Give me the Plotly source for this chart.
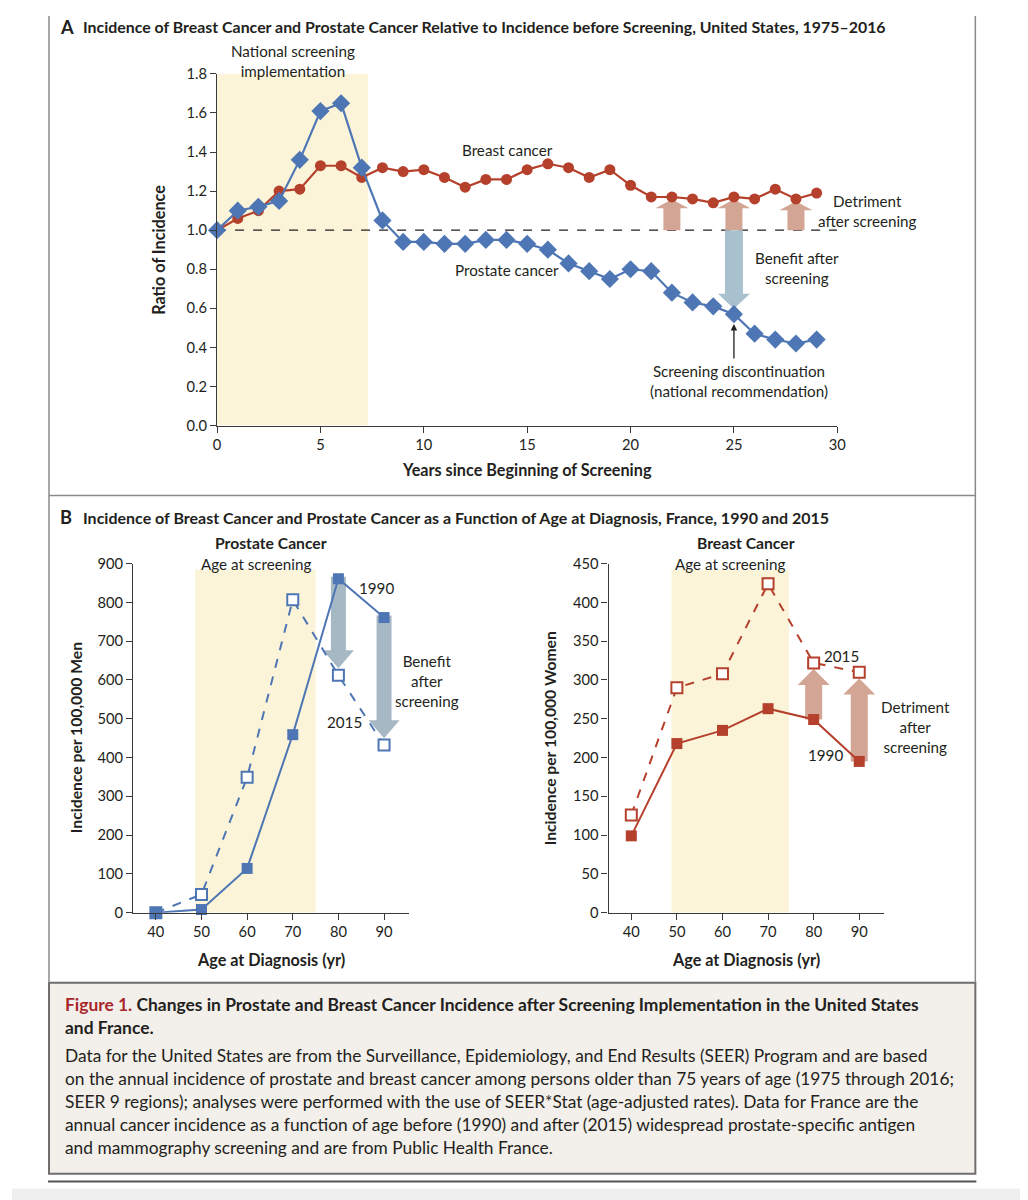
import plotly.graph_objects as go

W, H = 1028, 1200
# empirical screenshot transform compensation: shown = S*figure + (CX, CY)
S, CX, CY = 0.987, 13.0, 16.0
FONT = "Lato"

# ---------------- data ----------------
years = list(range(0, 30))
breast_ratio = [1.00, 1.06, 1.10, 1.20, 1.21, 1.33, 1.33, 1.27, 1.32, 1.30,
                1.31, 1.27, 1.22, 1.26, 1.26, 1.31, 1.34, 1.32, 1.27, 1.31,
                1.23, 1.17, 1.17, 1.16, 1.14, 1.17, 1.16, 1.21, 1.16, 1.19]
prostate_ratio = [1.00, 1.10, 1.12, 1.15, 1.36, 1.61, 1.65, 1.32, 1.05, 0.94,
                  0.94, 0.93, 0.93, 0.95, 0.95, 0.93, 0.90, 0.83, 0.79, 0.75,
                  0.80, 0.79, 0.68, 0.63, 0.61, 0.57, 0.47, 0.44, 0.42, 0.44]
ages = [40, 50, 60, 70, 80, 90]
prostate_1990 = [0, 8, 114, 459, 861, 761]
prostate_2015 = [0, 47, 349, 807, 612, 432]
breast_1990 = [99, 218, 235, 263, 249, 195]
breast_2015 = [126, 290, 308, 424, 322, 310]

a_xticks = [0, 5, 10, 15, 20, 25, 30]
a_yticks = [0.0, 0.2, 0.4, 0.6, 0.8, 1.0, 1.2, 1.4, 1.6, 1.8]
b_xticks = [40, 50, 60, 70, 80, 90]
bl_yticks = list(range(0, 901, 100))
br_yticks = list(range(0, 451, 50))

BLUE = "#4E76B4"
RED = "#B5402C"
TAN = "#D3A594"
LBLUE = "#A9C1CE"
GBLUE = "#A6B8C4"
YEL = "#FBF4D8"
INK = "#231F20"


def px(x):
    return ((x - CX) / S) / W


def py(y):
    return 1 - ((y - CY) / S) / H


def fs(v):
    return v / S


# axis geometry (reference pixels)
A_X = (218, 838); A_Y = (425, 73); A_RX = (0, 30); A_RY = (0, 1.8)
BL_X = (134, 410); B_Y = (912.7, 563.3); BL_RX = (35, 95.5); BL_RY = (0, 900)
BR_X = (609.3, 885); BR_RX = (35, 95.5); BR_RY = (0, 450)


def scale(pxr, rng):
    return (rng[1] - rng[0]) / abs(pxr[1] - pxr[0])  # data units per reference pixel


fig = go.Figure()

# ---------- traces ----------
fig.add_trace(go.Scatter(x=years, y=breast_ratio, mode="lines+markers",
                         line=dict(color=RED, width=2.2),
                         marker=dict(symbol="circle", size=11, color=RED),
                         xaxis="x", yaxis="y", cliponaxis=False, showlegend=False))
fig.add_trace(go.Scatter(x=years, y=prostate_ratio, mode="lines+markers",
                         line=dict(color=BLUE, width=2.2),
                         marker=dict(symbol="diamond", size=14, color=BLUE),
                         xaxis="x", yaxis="y", cliponaxis=False, showlegend=False))

fig.add_trace(go.Scatter(x=ages, y=prostate_2015, mode="lines+markers",
                         line=dict(color=BLUE, width=2, dash="dash"),
                         marker=dict(symbol="square", size=11, color="white", line=dict(width=2, color=BLUE)),
                         xaxis="x2", yaxis="y2", cliponaxis=False, showlegend=False))
fig.add_trace(go.Scatter(x=ages, y=prostate_1990, mode="lines+markers",
                         line=dict(color=BLUE, width=2),
                         marker=dict(symbol="square", size=11, color=BLUE),
                         xaxis="x2", yaxis="y2", cliponaxis=False, showlegend=False))

fig.add_trace(go.Scatter(x=ages, y=breast_2015, mode="lines+markers",
                         line=dict(color=RED, width=2, dash="dash"),
                         marker=dict(symbol="square", size=11, color="white", line=dict(width=2, color=RED)),
                         xaxis="x3", yaxis="y3", cliponaxis=False, showlegend=False))
fig.add_trace(go.Scatter(x=ages, y=breast_1990, mode="lines+markers",
                         line=dict(color=RED, width=2),
                         marker=dict(symbol="square", size=11, color=RED),
                         xaxis="x3", yaxis="y3", cliponaxis=False, showlegend=False))

shapes = []

# ---------- frames ----------
FR = dict(color="#8A8A8A", width=1.5)
for xv in (50, 976):
    shapes.append(dict(type="line", xref="paper", yref="paper", x0=px(xv), x1=px(xv), y0=py(15), y1=py(983),
                       line=FR))
shapes.append(dict(type="line", xref="paper", yref="paper", x0=px(50), x1=px(976), y0=py(495), y1=py(495),
                   line=FR))
shapes.append(dict(type="rect", xref="paper", yref="paper", x0=px(50), x1=px(976), y0=py(983), y1=py(1174),
                   fillcolor="#F3EFEA", line=dict(color="#6E6E6E", width=2), layer="below"))
shapes.append(dict(type="line", xref="paper", yref="paper", x0=px(49), x1=px(977), y0=py(1182), y1=py(1182),
                   line=dict(color="#555555", width=2)))
shapes.append(dict(type="rect", xref="paper", yref="paper", x0=0, x1=1, y0=0, y1=py(1189),
                   fillcolor="#EFEFEF", line=dict(width=0), layer="below"))

# ---------- shaded screening periods ----------
shapes.append(dict(type="rect", xref="x", yref="y", x0=0, x1=7.3, y0=0, y1=1.8,
                   fillcolor=YEL, line=dict(width=0), layer="below"))
shapes.append(dict(type="rect", xref="x2", yref="y2", x0=48.6, x1=75.0, y0=0, y1=885,
                   fillcolor=YEL, line=dict(width=0), layer="below"))
shapes.append(dict(type="rect", xref="x3", yref="y3", x0=48.8, x1=74.6, y0=0, y1=442,
                   fillcolor=YEL, line=dict(width=0), layer="below"))

# reference line at 1.0
shapes.append(dict(type="line", xref="x", yref="y", x0=0, x1=30, y0=1.0, y1=1.0,
                   line=dict(color=INK, width=1.2, dash="dash"), layer="below"))


def arrow(xc, y0, y1, ux, uy, shaft_px, head_px, headlen_px, color, xr, yr):
    sw = shaft_px * ux / 2
    hw = head_px * ux / 2
    hl = headlen_px * uy * (1 if y1 > y0 else -1)
    yb = y1 - hl
    path = (f"M {xc - sw},{y0} L {xc - sw},{yb} L {xc - hw},{yb} L {xc},{y1} "
            f"L {xc + hw},{yb} L {xc + sw},{yb} L {xc + sw},{y0} Z")
    return dict(type="path", path=path, xref=xr, yref=yr, fillcolor=color,
                line=dict(width=0), layer="below")


uxA, uyA = scale(A_X, A_RX), scale(A_Y, A_RY)
for i in [22, 25, 28]:
    shapes.append(arrow(years[i], 1.0, breast_ratio[i] - 0.012, uxA, uyA, 17, 33, 9, TAN, "x", "y"))
shapes.append(arrow(years[25], 1.0, prostate_ratio[25] + 0.028, uxA, uyA, 18, 32, 15, LBLUE, "x", "y"))

uxL, uyL = scale(BL_X, BL_RX), scale(B_Y, BL_RY)
for i in [4, 5]:
    shapes.append(arrow(ages[i], prostate_1990[i] + 5, prostate_2015[i] + 18, uxL, uyL, 15, 31, 18, GBLUE, "x2", "y2"))

uxR, uyR = scale(BR_X, BR_RX), scale(B_Y, BR_RY)
for i in [4, 5]:
    shapes.append(arrow(ages[i], breast_1990[i], breast_2015[i] - 8, uxR, uyR, 17, 32, 16, TAN, "x3", "y3"))

# ---------- axes ----------
ax_common = dict(showgrid=False, zeroline=False, showline=True, linecolor="#3A3A3A", linewidth=1.2,
                 ticks="outside", ticklen=6, tickwidth=1.2, tickcolor="#3A3A3A",
                 tickfont=dict(family=FONT, size=fs(14.5), color=INK), fixedrange=True)

fig.update_layout(
    width=W, height=H, margin=dict(l=0, r=0, t=0, b=0),
    paper_bgcolor="white", plot_bgcolor="rgba(0,0,0,0)",
    font=dict(family=FONT, color=INK),
    xaxis=dict(domain=[px(A_X[0]), px(A_X[1])], range=list(A_RX), tickvals=a_xticks,
               anchor="y", **ax_common),
    yaxis=dict(domain=[py(A_Y[0]), py(A_Y[1])], range=list(A_RY), tickvals=a_yticks,
               tickformat=".1f", anchor="x", **ax_common),
    xaxis2=dict(domain=[px(BL_X[0]), px(BL_X[1])], range=list(BL_RX), tickvals=b_xticks,
                anchor="y2", **ax_common),
    yaxis2=dict(domain=[py(B_Y[0]), py(B_Y[1])], range=list(BL_RY), tickvals=bl_yticks,
                anchor="x2", **ax_common),
    xaxis3=dict(domain=[px(BR_X[0]), px(BR_X[1])], range=list(BR_RX), tickvals=b_xticks,
                anchor="y3", **ax_common),
    yaxis3=dict(domain=[py(B_Y[0]), py(B_Y[1])], range=list(BR_RY), tickvals=br_yticks,
                anchor="x3", **ax_common),
    shapes=shapes,
)

ann = []


def T(text, x, y, size=15, bold=False, color=INK, xanchor="center", yanchor="middle", angle=0, align="center"):
    t = f"<b>{text}</b>" if bold else text
    ann.append(dict(text=t, x=px(x), y=py(y), xref="paper", yref="paper", showarrow=False,
                    xanchor=xanchor, yanchor=yanchor, textangle=angle, align=align,
                    font=dict(family=FONT, size=fs(size), color=color)))


# Panel headers
T("A", 59, 26, size=18, bold=True, xanchor="left")
T("Incidence of Breast Cancer and Prostate Cancer Relative to Incidence before Screening, United States, 1975\u20132016",
  82, 26, size=15.7, bold=True, xanchor="left")
T("B", 59, 517, size=18, bold=True, xanchor="left")
T("Incidence of Breast Cancer and Prostate Cancer as a Function of Age at Diagnosis, France, 1990 and 2015",
  82, 517, size=15.8, bold=True, xanchor="left")

# Panel A labels
T("National screening<br>implementation", 294, 60)
T("Breast cancer", 508, 149)
T("Prostate cancer", 508, 269)
T("Detriment<br>after screening", 868, 210)
T("Benefit after<br>screening", 798, 267)
T("Screening discontinuation<br>(national recommendation)", 740, 380)
T("Ratio of Incidence", 160, 249, size=16, bold=True, angle=-90)
T("Years since Beginning of Screening", 528, 469, size=16, bold=True)

ann.append(dict(x=years[25], y=prostate_ratio[25] - 0.05, xref="x", yref="y", ax=0, ay=36,
                showarrow=True, arrowhead=2, arrowsize=1, arrowwidth=1.3, arrowcolor=INK, text=""))

# Panel B labels
T("Prostate Cancer", 272, 543, size=15.5, bold=True)
T("Breast Cancer", 747, 543, size=15.5, bold=True)
T("Age at screening", 257, 564)
T("Age at screening", 731, 564)
T("1990", 377, 588)
T("2015", 345, 722)
T("Benefit<br>after<br>screening", 428, 681)
T("2015", 842, 656)
T("1990", 826, 755)
T("Detriment<br>after<br>screening", 916, 727)
T("Incidence per 100,000 Men", 77, 738, size=15.5, bold=True, angle=-90)
T("Incidence per 100,000 Women", 551, 738, size=15.5, bold=True, angle=-90)
T("Age at Diagnosis (yr)", 272, 960, size=16, bold=True)
T("Age at Diagnosis (yr)", 747, 960, size=16, bold=True)

# Caption
T("<span style='color:#A8262B'>Figure 1.</span> Changes in Prostate and Breast Cancer Incidence after Screening Implementation in the United States",
  64, 1005, size=17.2, bold=True, xanchor="left")
T("and France.", 64, 1028, size=17.2, bold=True, xanchor="left")
cap = [
    "Data for the United States are from the Surveillance, Epidemiology, and End Results (SEER) Program and are based",
    "on the annual incidence of prostate and breast cancer among persons older than 75 years of age (1975 through 2016;",
    "SEER 9 regions); analyses were performed with the use of SEER*Stat (age-adjusted rates). Data for France are the",
    "annual cancer incidence as a function of age before (1990) and after (2015) widespread prostate-specific antigen",
    "and mammography screening and are from Public Health France.",
]
for k, line in enumerate(cap):
    T(line, 64, 1056 + 23 * k, size=17.1, xanchor="left")

fig.update_layout(annotations=ann)
fig.write_html("out.html")
